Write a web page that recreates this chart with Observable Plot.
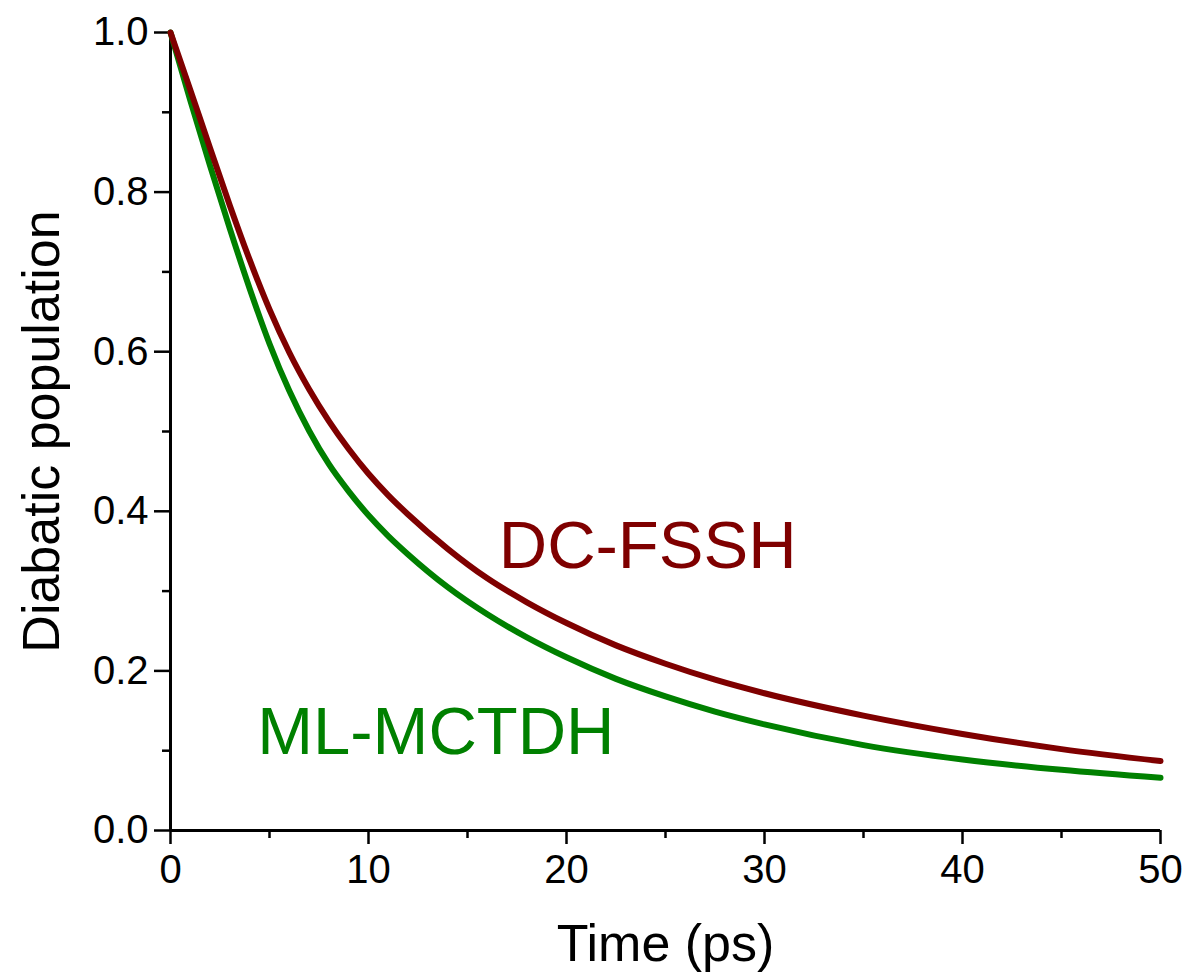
<!DOCTYPE html>
<html>
<head>
<meta charset="utf-8">
<script src="https://cdn.jsdelivr.net/npm/d3@7"></script>
<script src="https://cdn.jsdelivr.net/npm/@observablehq/plot@0.6"></script>
<style>
  html, body { margin: 0; padding: 0; background: #fff; }
  #chart svg { display: block; }
</style>
</head>
<body>
<div id="chart"></div>
<script>
// ---- data ----
const time = [0, 1, 2, 3, 4, 5, 6, 7, 8, 9, 10, 11, 12, 14, 16, 18, 20, 22.5, 25, 27.5, 30, 35, 40, 45, 50];
const dcFssh = [1.000, 0.928, 0.855, 0.783, 0.715, 0.653, 0.599, 0.553, 0.513, 0.478, 0.447, 0.420, 0.396, 0.353, 0.316, 0.286, 0.260, 0.232, 0.209, 0.189, 0.172, 0.144, 0.121, 0.102, 0.087];
const mlMctdh = [1.000, 0.915, 0.833, 0.754, 0.679, 0.610, 0.551, 0.501, 0.459, 0.425, 0.395, 0.369, 0.346, 0.305, 0.271, 0.242, 0.217, 0.190, 0.168, 0.149, 0.133, 0.107, 0.089, 0.076, 0.066];

const seriesNames = ["ML-MCTDH", "DC-FSSH"];
const seriesColors = ["#008000", "#7f0000"];
const labelX = [13.4, 24.1];
const labelY = [0.123, 0.356];

const xMajor = [0, 10, 20, 30, 40, 50];
const xMinor = [5, 15, 25, 35, 45];
const yMajor = [0, 0.2, 0.4, 0.6, 0.8, 1.0];
const yMinor = [0.1, 0.3, 0.5, 0.7, 0.9];
const xTitle = "Time (ps)";
const yTitle = "Diabatic population";

// ---- build tables ----
const rows = [];
time.forEach((t, i) => rows.push({t, v: mlMctdh[i], s: seriesNames[0]}));
time.forEach((t, i) => rows.push({t, v: dcFssh[i], s: seriesNames[1]}));
const labels = seriesNames.map((name, i) => ({name, x: labelX[i], y: labelY[i], c: seriesColors[i]}));

const font = "'Liberation Sans', Arial, Helvetica, sans-serif";

const chart = Plot.plot({
  width: 1187,
  height: 976,
  marginLeft: 170,
  marginRight: 27,
  marginTop: 32,
  marginBottom: 146,
  style: {fontFamily: font, background: "#fff", color: "#000"},
  x: {domain: [0, 50]},
  y: {domain: [0, 1]},
  color: {domain: seriesNames, range: seriesColors},
  marks: [
    // minor ticks
    Plot.axisX({ticks: xMinor, tickSize: 8, text: null, strokeWidth: 2.5, label: null}),
    Plot.axisY({ticks: yMinor, tickSize: 8, text: null, strokeWidth: 2.5, label: null}),
    // major ticks with labels
    Plot.axisX({ticks: xMajor, tickSize: 14, tickPadding: 10, strokeWidth: 2.5, fontSize: 40, tickFormat: d3.format("d"), label: null}),
    Plot.axisY({ticks: yMajor, tickSize: 16, tickPadding: 6, strokeWidth: 2.5, fontSize: 40, tickFormat: d3.format(".1f"), label: null}),
    // axis lines
    Plot.ruleY([0], {stroke: "#000", strokeWidth: 3}),
    Plot.ruleX([0], {stroke: "#000", strokeWidth: 3}),
    // curves
    Plot.line(rows, {x: "t", y: "v", z: "s", stroke: "s", strokeWidth: 6, curve: "monotone-x"}),
    // in-plot labels
    Plot.text(labels, {x: "x", y: "y", text: "name", fill: "c", fontSize: 67, textAnchor: "middle", lineAnchor: "middle"}),
    // axis titles
    Plot.text([xTitle], {frameAnchor: "bottom", textAnchor: "middle", lineAnchor: "middle", dy: 114, fontSize: 52, fill: "#000"}),
    Plot.text([yTitle], {frameAnchor: "left", textAnchor: "middle", lineAnchor: "middle", rotate: -90, dx: -128, fontSize: 52, fill: "#000"})
  ]
});

document.getElementById("chart").appendChild(chart);
</script>
</body>
</html>
